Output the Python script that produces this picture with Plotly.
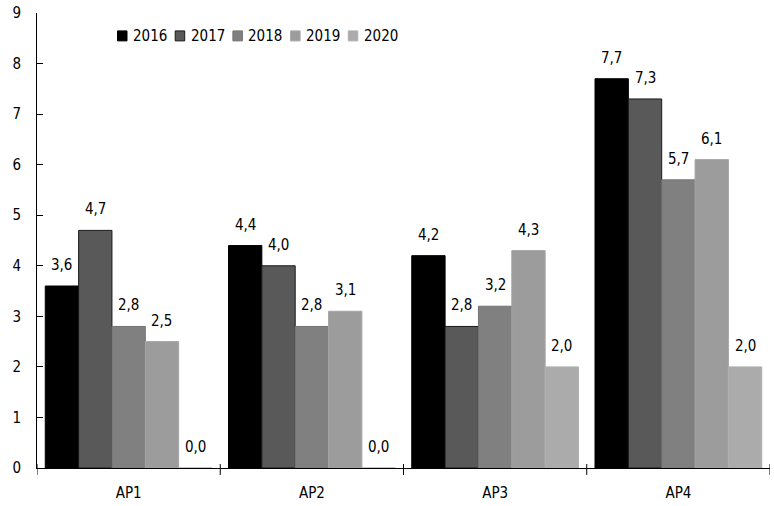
import plotly.graph_objects as go

categories = ["AP1", "AP2", "AP3", "AP4"]
years = ["2016", "2017", "2018", "2019", "2020"]
values_2016 = [3.6, 4.4, 4.2, 7.7]
values_2017 = [4.7, 4.0, 2.8, 7.3]
values_2018 = [2.8, 2.8, 3.2, 5.7]
values_2019 = [2.5, 3.1, 4.3, 6.1]
values_2020 = [0.0, 0.0, 2.0, 2.0]
series = [values_2016, values_2017, values_2018, values_2019, values_2020]
y_ticks = list(range(0, 10))

colors = ["#000000", "#595959", "#808080", "#9c9c9c", "#ababab"]
line_colors = ["#000000", "#1a1a1a", "#737373", "#a6a6a6", "#b0b0b0"]
FONT = "DejaVu Sans Condensed, Liberation Sans Narrow, sans-serif"
FS = 15
bargap = 0.09

W, H = 774, 506
ML, MR, MT, MB = 37, 4, 13, 36
PW, PH = W - ML - MR, H - MT - MB

def px_to_paper_x(p):
    return (p - ML) / PW

def px_to_paper_y(q):
    return (H - MB - q) / PH

fig = go.Figure()
for yr, vals, c, lc in zip(years, series, colors, line_colors):
    fig.add_trace(go.Bar(
        name=yr, x=list(range(len(categories))), y=vals,
        marker=dict(color=c, line=dict(color=lc, width=1)),
        showlegend=False,
    ))

# value labels above bars
n = len(years)
w = (1 - bargap) / n
for i, vals in enumerate(series):
    for j, v in enumerate(vals):
        fig.add_annotation(
            x=j + (i - (n - 1) / 2) * w, y=v, xref="x", yref="y",
            text=f"{v:.1f}".replace(".", ","), showarrow=False,
            yanchor="middle", yshift=21,
            font=dict(family=FONT, size=FS, color="#000000"),
        )

# legend (top, horizontal)
leg_x0 = 117.5
leg_step = 57.7
leg_y = 36
for i, yr in enumerate(years):
    sx = leg_x0 + i * leg_step
    fig.add_shape(type="rect", xref="paper", yref="paper",
                  x0=px_to_paper_x(sx), x1=px_to_paper_x(sx + 9.5),
                  y0=px_to_paper_y(leg_y + 5), y1=px_to_paper_y(leg_y - 5),
                  fillcolor=colors[i], line=dict(color=line_colors[i], width=1))
    fig.add_annotation(x=px_to_paper_x(sx + 13.5), y=px_to_paper_y(leg_y),
                       xref="paper", yref="paper", xanchor="left", yanchor="middle",
                       text=yr, showarrow=False,
                       font=dict(family=FONT, size=FS, color="#000000"))

fig.update_layout(
    width=W, height=H,
    margin=dict(l=ML, r=MR, t=MT, b=MB),
    plot_bgcolor="white", paper_bgcolor="white",
    barmode="group", bargap=bargap, bargroupgap=0,
    font=dict(family=FONT, size=FS, color="#000000"),
    showlegend=False,
    xaxis=dict(
        tickmode="array", tickvals=list(range(len(categories))), ticktext=categories,
        range=[-0.5, len(categories) - 0.5],
        showline=True, linecolor="#000000", linewidth=1,
        showgrid=False, zeroline=False,
        ticks="", ticklabelstandoff=11,
    ),
    yaxis=dict(
        range=[0, 9], tickmode="array", tickvals=y_ticks,
        showline=True, linecolor="#000000", linewidth=1,
        showgrid=False, zeroline=False,
        ticks="inside", ticklen=6, tickcolor="#000000",
        ticklabelstandoff=12,
    ),
)

# category boundary ticks crossing the x axis
for k in range(len(categories) + 1):
    fig.add_shape(type="line", xref="x", yref="paper", x0=k - 0.5, x1=k - 0.5,
                  y0=-7 / PH, y1=4 / PH, line=dict(color="#000000", width=1))

fig.write_html("out.html", config={"displayModeBar": False},
               post_script="document.body.style.margin='0';")
